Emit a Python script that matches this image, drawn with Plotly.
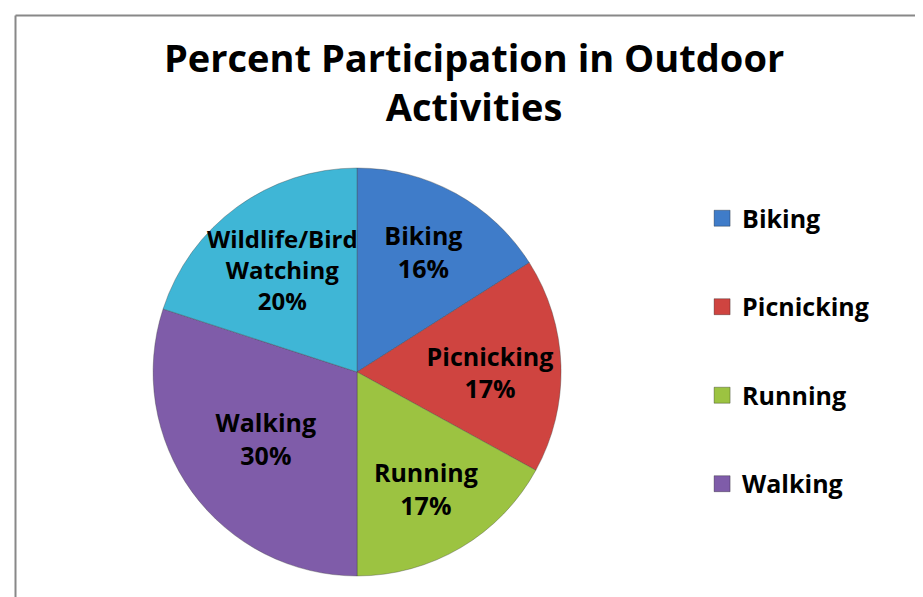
import math
import plotly.graph_objects as go

# data
categories = ["Biking", "Picnicking", "Running", "Walking", "Wildlife/Bird Watching"]
slice_text = ["Biking", "Picnicking", "Running", "Walking", "Wildlife/Bird<br>Watching"]
percents = [16, 17, 17, 30, 20]
colors = ["#3f7cc9", "#cf4440", "#9cc341", "#7f5ca9", "#3fb6d6"]
legend_items = ["Biking", "Picnicking", "Running", "Walking"]

FONT = "Open Sans"
W, H = 923, 597
dom_x = [0.1572, 0.5992]
dom_y = [0.0486, 0.7320]

# the wildlife label spills over its slice in the reference, so it goes in
# as an annotation at the slice's mid angle instead of plotly's shrunk text
templates = ["<b>%{text}<br>%{value}%</b>"] * 4 + [""]

fig = go.Figure()

fig.add_trace(go.Pie(
    labels=categories,
    values=percents,
    text=slice_text,
    texttemplate=templates,
    textposition="inside",
    insidetextorientation="horizontal",
    textfont=dict(family=FONT, size=25, color="black"),
    sort=False,
    direction="clockwise",
    rotation=0,
    marker=dict(colors=colors, line=dict(color="rgba(60,60,60,0.35)", width=1)),
    showlegend=False,
    domain=dict(x=dom_x, y=dom_y),
    hoverinfo="label+percent",
))

# position of the last label from the pie geometry
cx = (dom_x[0] + dom_x[1]) / 2 * W
cy = (dom_y[0] + dom_y[1]) / 2 * H
r = (dom_x[1] - dom_x[0]) * W / 2
mid = (sum(percents[:-1]) + percents[-1] / 2) / sum(percents) * 2 * math.pi
lx = (cx + 0.62 * r * math.sin(mid)) / W
ly = (cy + 0.62 * r * math.cos(mid)) / H

# the legend in the reference only fits four entries
for name in legend_items:
    c = colors[categories.index(name)]
    fig.add_trace(go.Scatter(
        x=[None], y=[None], mode="markers", name="<b>" + name + "</b>",
        legendgroup=name,
        marker=dict(symbol="square", size=16, color=c,
                    line=dict(color="rgba(0,0,0,0.3)", width=1)),
    ))

fig.update_layout(
    width=W, height=H,
    margin=dict(l=0, r=0, t=0, b=0),
    paper_bgcolor="white", plot_bgcolor="white",
    xaxis=dict(visible=False), yaxis=dict(visible=False),
    legend=dict(
        x=0.752, xanchor="left", y=0.686, yanchor="top",
        font=dict(family=FONT, size=25, color="black"),
        tracegroupgap=53, itemsizing="trace",
        bgcolor="rgba(0,0,0,0)",
    ),
    annotations=[
        dict(text="<b>Percent Participation in Outdoor<br>Activities</b>",
             xref="paper", yref="paper", x=0.505, y=1 - 73 / 597,
             xanchor="center", yanchor="middle", showarrow=False,
             font=dict(family=FONT, size=38, color="black")),
        dict(text="<b>" + slice_text[-1] + "<br>%d%%</b>" % percents[-1],
             xref="paper", yref="paper", x=lx, y=ly,
             xanchor="center", yanchor="middle", showarrow=False,
             font=dict(family=FONT, size=24, color="black")),
    ],
    shapes=[
        dict(type="line", xref="paper", yref="paper",
             x0=7.5 / W, x1=7.5 / W, y0=0, y1=1 - 7.5 / H,
             line=dict(color="#888888", width=2)),
        dict(type="line", xref="paper", yref="paper",
             x0=7.5 / W, x1=1, y0=1 - 7.5 / H, y1=1 - 7.5 / H,
             line=dict(color="#888888", width=2)),
    ],
)

fig.write_html("out.html")
